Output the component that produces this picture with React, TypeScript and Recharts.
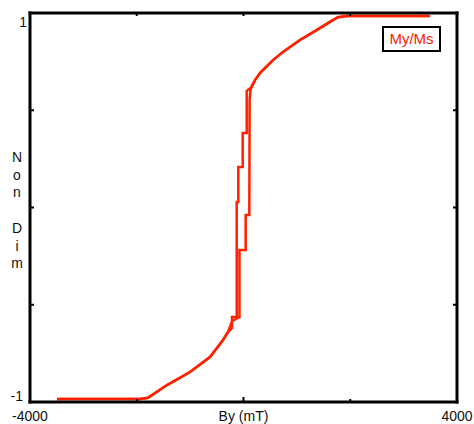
import React from 'react'
import { LineChart, Line, XAxis, YAxis, Legend } from 'recharts'

const RED = '#ff2200'
const FONT = '"Liberation Sans", Arial, sans-serif'

// lower saturation tail, field increasing (mT, My/Ms)
const lowTailX = [-3494, -1939, -1789, -1433, -1002, -628, -384, -290]
const lowTailY = [-0.985, -0.985, -0.978, -0.913, -0.846, -0.769, -0.681, -0.64]

// upper saturation tail, field increasing
const upTailX = [215, 309, 365, 553, 740, 1058, 1377, 1620, 1770, 1939, 3494]
const upTailY = [0.655, 0.691, 0.707, 0.758, 0.8, 0.861, 0.913, 0.954, 0.978, 0.985, 0.985]

// loop, descending field (left side)
const loopDownX = [154, 60, 60, -15, -15, -97, -97, -127, -127, -215, -215]
const loopDownY = [0.619, 0.6, 0.383, 0.383, 0.208, 0.208, 0.028, 0.028, -0.563, -0.563, -0.62]

// loop, ascending field (right side)
const loopUpX = [-215, -75, -75, 41, 41, 109, 115, 130, 154]
const loopUpY = [-0.585, -0.563, -0.218, -0.218, -0.039, -0.039, 0.553, 0.604, 0.625]

const xTicks = [-4000, -2000, 0, 2000, 4000]
const yTicks = [-1, -0.5, 0, 0.5, 1]

const zip = (xs: number[], ys: number[]) => xs.map((x, i) => ({ x, y: ys[i] }))

const ascending = [...zip(lowTailX, lowTailY), ...zip(loopUpX, loopUpY), ...zip(upTailX, upTailY)]
const descending = [
  ...zip(upTailX, upTailY).reverse(),
  ...zip(loopDownX, loopDownY),
  ...zip(lowTailX, lowTailY).reverse(),
]

const txt = { fontFamily: FONT, fontSize: 14, fill: '#111' }

function BottomTick({ x, y, payload }: any) {
  const v = payload.value
  const label = v === -4000 ? '-4000' : v === 4000 ? '4000' : v === 0 ? 'By (mT)' : null
  return (
    <g>
      {Math.abs(v) !== 4000 && (
        <line x1={x} x2={x} y1={y} y2={y - (v === 0 ? 5 : 3)} stroke="#000" strokeWidth={2} />
      )}
      {label && (
        <text x={x} y={y + 14} textAnchor="middle" dominantBaseline="central" {...txt}>
          {label}
        </text>
      )}
    </g>
  )
}

function TopTick({ x, y, payload }: any) {
  if (Math.abs(payload.value) === 4000) return <g />
  return <line x1={x} x2={x} y1={y} y2={y + 3} stroke="#000" strokeWidth={2} />
}

function LeftTick({ x, y, payload }: any) {
  const v = payload.value
  if (v === 1)
    return (
      <text x={x - 3} y={y + 9} textAnchor="end" dominantBaseline="central" {...txt}>
        1
      </text>
    )
  if (v === -1)
    return (
      <text x={x - 7} y={y - 6} textAnchor="end" dominantBaseline="central" {...txt}>
        -1
      </text>
    )
  return <line x1={x} x2={x + 4} y1={y} y2={y} stroke="#000" strokeWidth={2} />
}

function RightTick({ x, y, payload }: any) {
  if (Math.abs(payload.value) === 1) return <g />
  return <line x1={x} x2={x - 4} y1={y} y2={y} stroke="#000" strokeWidth={2} />
}

function NonDim() {
  const letters = 'Non Dim'.split('')
  return (
    <g>
      {letters.map((c, i) => (
        <text key={i} x={17} y={157 + i * 17.7} textAnchor="middle" dominantBaseline="central" {...txt}>
          {c}
        </text>
      ))}
    </g>
  )
}

function LegendBox() {
  return (
    <div
      style={{
        boxSizing: 'border-box',
        width: 59,
        height: 26,
        border: '2px solid #000',
        color: RED,
        fontFamily: FONT,
        fontSize: 15,
        lineHeight: '22px',
        textAlign: 'center',
        background: '#fff',
      }}
    >
      My/Ms
    </div>
  )
}

const frame = { stroke: '#000', strokeWidth: 3, strokeLinecap: 'square' as const }

export default function App() {
  return (
    <div style={{ position: 'absolute', left: 0, top: 0, width: 474, height: 424, background: '#fff' }}>
      <LineChart width={474} height={424} margin={{ top: 0, right: 0, bottom: 0, left: 0 }}>
        <XAxis
          xAxisId="b"
          type="number"
          dataKey="x"
          domain={[-4000, 4000]}
          allowDataOverflow
          ticks={xTicks}
          interval={0}
          height={22}
          tickSize={0}
          tickMargin={0}
          axisLine={frame}
          tick={<BottomTick />}
        />
        <XAxis
          xAxisId="t"
          orientation="top"
          type="number"
          dataKey="x"
          domain={[-4000, 4000]}
          allowDataOverflow
          ticks={xTicks}
          interval={0}
          height={13}
          tickSize={0}
          tickMargin={0}
          axisLine={frame}
          tick={<TopTick />}
        />
        <YAxis
          yAxisId="l"
          type="number"
          domain={[-1, 1]}
          allowDataOverflow
          ticks={yTicks}
          interval={0}
          width={30}
          tickSize={0}
          tickMargin={0}
          axisLine={frame}
          tick={<LeftTick />}
          label={<NonDim />}
        />
        <YAxis
          yAxisId="r"
          orientation="right"
          type="number"
          domain={[-1, 1]}
          allowDataOverflow
          ticks={yTicks}
          interval={0}
          width={17}
          tickSize={0}
          tickMargin={0}
          axisLine={frame}
          tick={<RightTick />}
        />
        <Legend
          layout="horizontal"
          verticalAlign="middle"
          align="center"
          content={() => <LegendBox />}
          wrapperStyle={{ left: 382, top: 26, width: 59, height: 26 }}
        />
        <Line
          xAxisId="b"
          yAxisId="l"
          data={ascending}
          dataKey="y"
          type="linear"
          stroke={RED}
          strokeWidth={2.5}
          dot={false}
          isAnimationActive={false}
        />
        <Line
          xAxisId="b"
          yAxisId="l"
          data={descending}
          dataKey="y"
          type="linear"
          stroke={RED}
          strokeWidth={2.5}
          dot={false}
          isAnimationActive={false}
        />
      </LineChart>
    </div>
  )
}
